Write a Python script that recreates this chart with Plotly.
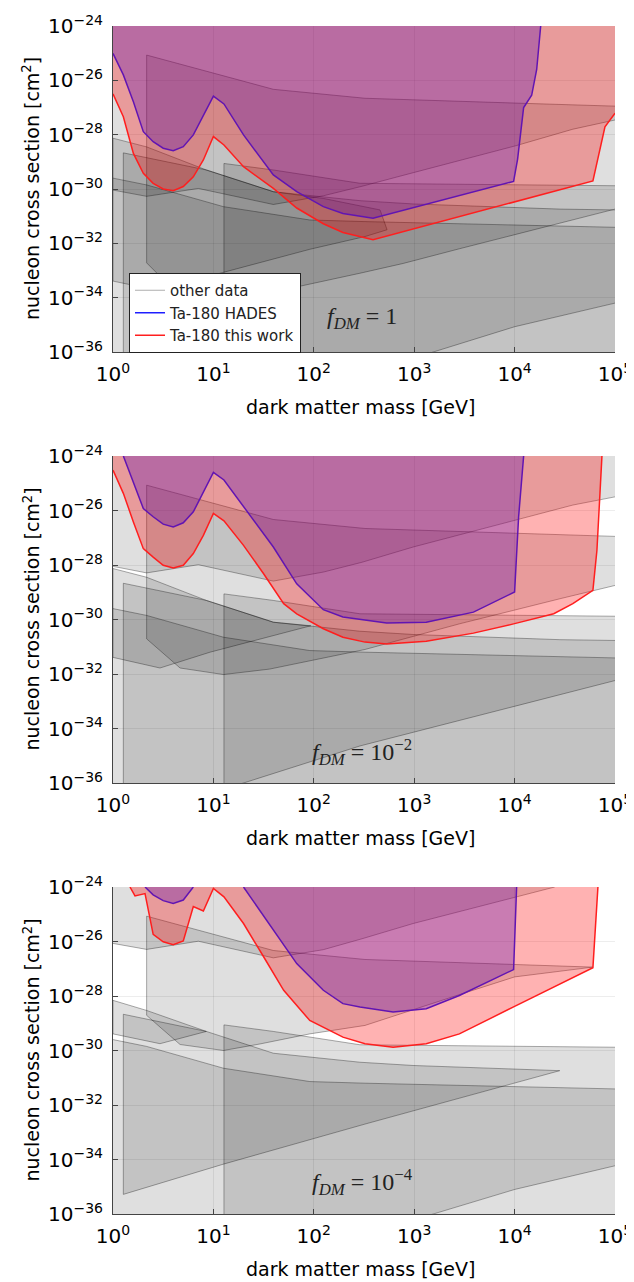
import plotly.graph_objects as go

# ---------------- axis / label data ----------------
X_TICK_EXP = [0, 1, 2, 3, 4, 5]
X_TICK_LABELS = ["10<sup>0</sup>", "10<sup>1</sup>", "10<sup>2</sup>", "10<sup>3</sup>", "10<sup>4</sup>", "10<sup>5</sup>"]
Y_TICK_EXP = [-24, -26, -28, -30, -32, -34, -36]
Y_TICK_LABELS = ["10<sup>−24</sup>", "10<sup>−26</sup>", "10<sup>−28</sup>", "10<sup>−30</sup>",
                 "10<sup>−32</sup>", "10<sup>−34</sup>", "10<sup>−36</sup>"]
FDM_LABELS = ["<i>f</i><sub><i>DM</i></sub> = 1",
              "<i>f</i><sub><i>DM</i></sub> = 10<sup>−2</sup>",
              "<i>f</i><sub><i>DM</i></sub> = 10<sup>−4</sup>"]
X_TITLE = "dark matter mass [GeV]"
Y_TITLE = "nucleon cross section [cm<sup>2</sup>]"
LEGEND_NAMES = ["other data", "Ta-180 HADES", "Ta-180 this work"]

# all values below are log10(mass/GeV) and log10(sigma/cm^2)
# ---------------- Ta-180 HADES (upper excluded region boundary) ----------------
hades_p1_m = [0.0, 0.103, 0.203, 0.302, 0.40, 0.50, 0.60, 0.70, 0.80, 0.90, 1.0, 1.105, 1.30, 1.597, 1.83,
              2.095, 2.29, 2.59, 3.99, 4.03, 4.09, 4.17, 4.22, 4.26]
hades_p1_s = [-25.01, -25.80, -26.79, -27.89, -28.26, -28.50, -28.59, -28.44, -28.01, -27.28, -26.58, -26.87,
              -28.01, -29.48, -30.1, -30.65, -30.9, -31.08, -29.72, -28.9, -27.0, -26.55, -25.6, -24.0]
hades_p2_m = [0.103, 0.302, 0.40, 0.50, 0.60, 0.70, 0.80, 0.90, 1.0, 1.105, 1.30, 1.597, 1.83, 2.095, 2.29,
              2.46, 2.726, 3.12, 3.59, 4.0, 4.04, 4.09]
hades_p2_s = [-24.0, -25.93, -26.23, -26.50, -26.60, -26.45, -26.05, -25.31, -24.60, -24.88, -25.87, -27.34,
              -28.69, -29.64, -29.91, -30.0, -30.13, -30.10, -29.73, -28.99, -26.23, -24.0]
hades_p3a_m = [0.319, 0.40, 0.50, 0.60, 0.70, 0.80]
hades_p3a_s = [-24.0, -24.29, -24.50, -24.60, -24.48, -24.0]
hades_p3b_m = [1.30, 1.597, 1.83, 2.095, 2.29, 2.46, 2.79, 3.12, 3.45, 3.99, 4.02]
hades_p3b_s = [-24.0, -25.58, -26.81, -27.79, -28.28, -28.40, -28.59, -28.47, -27.98, -27.03, -24.0]

# ---------------- Ta-180 this work ----------------
work_p1_m = [0.0, 0.103, 0.203, 0.302, 0.40, 0.50, 0.60, 0.70, 0.80, 0.90, 1.0, 1.105, 1.30, 1.597, 1.83,
             2.095, 2.29, 2.51, 2.59, 4.78, 4.9, 5.0]
work_p1_s = [-26.50, -27.34, -28.69, -29.42, -29.79, -30.0, -30.06, -29.91, -29.55, -28.93, -28.07, -28.38,
             -29.18, -29.98, -30.7, -31.28, -31.6, -31.8, -31.87, -29.7, -27.71, -27.21]
work_p2_m = [0.0, 0.103, 0.203, 0.302, 0.40, 0.50, 0.60, 0.70, 0.80, 0.90, 1.0, 1.105, 1.30, 1.50, 1.70,
             1.83, 2.095, 2.29, 2.51, 2.726, 3.12, 3.59, 3.99, 4.39, 4.58, 4.78, 4.82, 4.87]
work_p2_s = [-24.52, -25.37, -26.42, -27.40, -27.71, -28.01, -28.11, -28.01, -27.58, -26.91, -26.11, -26.38,
             -27.28, -28.32, -29.42, -29.79, -30.34, -30.65, -30.83, -30.90, -30.80, -30.50, -30.16, -29.79,
             -29.42, -28.93, -27.46, -24.0]
work_p3_m = [0.169, 0.219, 0.319, 0.40, 0.50, 0.60, 0.70, 0.80, 0.90, 1.0, 1.105, 1.30, 1.50, 1.70, 1.96,
             2.29, 2.51, 2.79, 3.12, 3.45, 3.99, 4.78, 4.83]
work_p3_s = [-24.0, -24.33, -24.24, -25.74, -26.01, -26.12, -25.98, -24.72, -24.88, -24.05, -24.36, -25.34,
             -26.56, -27.79, -28.90, -29.51, -29.75, -29.88, -29.75, -29.39, -28.40, -26.96, -24.0]

# ---------------- other data: region P (excluded above a lower limit) ----------------
otherP_p1_m = [0.0, 0.335, 0.85, 1.597, 2.095, 2.48, 2.99, 4.02, 4.58, 5.0]
otherP_p1_s = [-30.04, -30.27, -29.98, -30.57, -30.25, -29.9, -29.4, -28.4, -27.8, -27.46]
otherP_p2_m = [0.0, 0.335, 0.85, 1.597, 2.095, 2.48, 2.99, 4.02, 4.58, 5.0]
otherP_p2_s = [-28.05, -28.29, -27.99, -28.59, -28.26, -27.9, -27.34, -26.36, -25.80, -25.50]
otherP_p3_m = [0.0, 0.335, 0.85, 1.597, 2.095, 2.48, 2.99, 4.02, 4.4]
otherP_p3_s = [-26.07, -26.29, -25.99, -26.6, -26.3, -25.9, -25.34, -24.36, -24.0]

# ---------------- other data: region R (excluded below an upper limit) ----------------
otherR_m = [0.0, 0.335, 1.1, 1.96, 2.51, 5.0]
otherR_s = [-29.6, -29.85, -30.65, -31.14, -31.2, -31.41]

# ---------------- other data: band A (m > 2.2 GeV) ----------------
otherA_up_m = [0.335, 1.597, 2.51, 4.12, 5.0]
otherA_up_s = [-25.07, -26.33, -26.66, -26.85, -26.95]
otherA_p1_lo_m = [0.335, 0.50, 0.70, 1.10, 1.56, 2.46, 2.89, 3.45, 4.45, 5.0]
otherA_p1_lo_s = [-32.72, -33.33, -33.82, -34.02, -33.82, -33.1, -32.74, -32.2, -31.25, -30.74]
otherA_p2_lo_m = [0.335, 0.468, 0.668, 1.10, 1.56, 2.51, 3.45, 4.45, 5.0]
otherA_p2_lo_s = [-30.71, -31.14, -31.78, -32.02, -31.82, -31.10, -30.16, -29.24, -28.75]
otherA_p3_up_m = [0.335, 1.597, 2.51, 4.12, 4.78]
otherA_p3_up_s = [-25.07, -26.33, -26.66, -26.85, -26.94]
otherA_p3_lo_m = [0.335, 0.468, 0.668, 1.10, 1.464, 1.96, 2.51, 3.45, 4.0, 4.78]
otherA_p3_lo_s = [-28.71, -29.14, -29.78, -30.0, -29.76, -29.39, -29.08, -27.95, -27.3, -26.94]

# ---------------- other data: band B (m > 1.27 GeV) ----------------
otherB_up_m = [0.103, 0.93, 1.597, 2.46, 2.99, 4.45, 5.0]
otherB_up_s = [-28.67, -29.3, -30.1, -30.43, -30.55, -30.74, -30.77]
otherB_p1_lo_m = [0.103, 3.19, 4.0, 5.0]
otherB_p1_lo_s = [-39.3, -36.0, -35.07, -34.2]
otherB_p2_lo_m = [0.103, 1.3, 2.46, 3.19, 4.0, 5.0]
otherB_p2_lo_s = [-37.3, -36.0, -34.64, -33.95, -33.19, -32.24]
otherB_p3_up_m = [0.103, 0.93, 1.597, 2.46, 2.99, 4.45]
otherB_p3_up_s = [-28.67, -29.3, -30.1, -30.43, -30.55, -30.74]
otherB_p3_lo_m = [0.103, 1.1, 2.51, 4.45]
otherB_p3_lo_s = [-35.28, -34.17, -32.7, -30.74]

# ---------------- other data: band C (from 1 GeV) ----------------
otherC_p1_up_m = [0.0, 0.335, 0.93, 1.6, 2.1, 2.66]
otherC_p1_up_s = [-28.13, -28.45, -29.3, -30.1, -30.35, -30.77]
otherC_p1_lo_m = [0.0, 0.468, 0.966, 1.96, 2.51, 2.73]
otherC_p1_lo_s = [-33.39, -33.75, -33.2, -32.22, -31.75, -31.5]
otherC_p2_up_m = [0.0, 0.335, 0.93, 1.6, 1.97]
otherC_p2_up_s = [-28.13, -28.45, -29.3, -30.1, -30.23]
otherC_p2_lo_m = [0.0, 0.468, 0.966, 1.97]
otherC_p2_lo_s = [-31.39, -31.78, -31.2, -30.23]
otherC_p3_up_m = [0.0, 0.335, 0.93]
otherC_p3_up_s = [-28.16, -28.53, -29.3]
otherC_p3_lo_m = [0.0, 0.468, 0.93]
otherC_p3_lo_s = [-29.39, -29.75, -29.3]

# ---------------- other data: band D (m > 12.7 GeV) ----------------
otherD_up_m = [1.105, 1.597, 2.46, 5.0]
otherD_up_s = [-29.06, -29.3, -29.79, -29.88]
otherD_p1_lo_m = [1.105, 5.0]
otherD_p1_lo_s = [-42.0, -38.2]
otherD_p2_lo_m = [1.105, 5.0]
otherD_p2_lo_s = [-40.0, -36.2]
otherD_p3_lo_m = [1.105, 3.19, 4.0, 5.0]
otherD_p3_lo_s = [-38.0, -36.0, -35.1, -34.23]

# ---------------- styling ----------------
TOP_EDGE = -23.0
BOTTOM_EDGE = -40.0
GRAY_FILL = "rgba(0,0,0,0.125)"
GRAY_LINE = "rgba(0,0,0,0.32)"
BLUE_FILL = "rgba(0,0,255,0.30)"
BLUE_LINE = "rgb(30,30,255)"
RED_FILL = "rgba(255,0,0,0.30)"
RED_LINE = "rgb(255,30,30)"
FONT = "DejaVu Sans"

# the page body adds an 8px margin; the figure is sized so it ends at the window edge
PAGE_OFF = 8
W, H = 634 - PAGE_OFF, 1282 - PAGE_OFF
PLOT_L, PLOT_R = 113, 615          # window pixels
PANEL_TOPS = [26, 456, 887]
PANEL_BOTS = [352, 783, 1214]


def px(xw):
    return (xw - PAGE_OFF) / W


def py(yw):
    return 1 - (yw - PAGE_OFF) / H


fig = go.Figure()
legend_done = {"gray": False}


def lin(v):
    return [10.0 ** a for a in v]


def axes(i):
    return ("x" if i == 0 else f"x{i+1}", "y" if i == 0 else f"y{i+1}")


def add_fill(i, xs, ys, color):
    xa, ya = axes(i)
    fig.add_trace(go.Scatter(x=lin(xs), y=lin(ys), mode="lines", fill="toself", fillcolor=color,
                             line=dict(width=0), hoverinfo="skip", showlegend=False, xaxis=xa, yaxis=ya))


def add_line(i, xs, ys, color, width, name=None):
    xa, ya = axes(i)
    fig.add_trace(go.Scatter(x=lin(xs), y=lin(ys), mode="lines", line=dict(color=color, width=width),
                             hoverinfo="skip", showlegend=name is not None, name=name or "",
                             xaxis=xa, yaxis=ya))


def gray_line(i, xs, ys):
    name = None
    if i == 0 and not legend_done["gray"]:
        name = LEGEND_NAMES[0]
        legend_done["gray"] = True
    add_line(i, xs, ys, GRAY_LINE, 1, name)


def gray_band(i, up_m, up_s, lo_m, lo_s, closed=False):
    xs = list(up_m) + list(reversed(lo_m))
    ys = list(up_s) + list(reversed(lo_s))
    add_fill(i, xs, ys, GRAY_FILL)
    ox = list(reversed(lo_m)) + list(up_m)
    oy = list(reversed(lo_s)) + list(up_s)
    if closed:
        ox.append(ox[0])
        oy.append(oy[0])
    gray_line(i, ox, oy)


def gray_above(i, m, s):
    add_fill(i, list(m) + [m[-1], m[0]], list(s) + [TOP_EDGE, TOP_EDGE], GRAY_FILL)
    gray_line(i, m, s)


def gray_below(i, m, s):
    add_fill(i, list(m) + [m[-1], m[0]], list(s) + [BOTTOM_EDGE, BOTTOM_EDGE], GRAY_FILL)
    gray_line(i, m, s)


def colored_above(i, m, s, fill):
    add_fill(i, list(m) + [m[-1], m[0]], list(s) + [TOP_EDGE, TOP_EDGE], fill)


panels = [
    dict(P=(otherP_p1_m, otherP_p1_s),
         A=(otherA_up_m, otherA_up_s, otherA_p1_lo_m, otherA_p1_lo_s, False),
         B=(otherB_up_m, otherB_up_s, otherB_p1_lo_m, otherB_p1_lo_s, False),
         C=(otherC_p1_up_m, otherC_p1_up_s, otherC_p1_lo_m, otherC_p1_lo_s, True),
         D=(otherD_up_m, otherD_up_s, otherD_p1_lo_m, otherD_p1_lo_s, False),
         hades=[(hades_p1_m, hades_p1_s)], work=(work_p1_m, work_p1_s)),
    dict(P=(otherP_p2_m, otherP_p2_s),
         A=(otherA_up_m, otherA_up_s, otherA_p2_lo_m, otherA_p2_lo_s, False),
         B=(otherB_up_m, otherB_up_s, otherB_p2_lo_m, otherB_p2_lo_s, False),
         C=(otherC_p2_up_m, otherC_p2_up_s, otherC_p2_lo_m, otherC_p2_lo_s, True),
         D=(otherD_up_m, otherD_up_s, otherD_p2_lo_m, otherD_p2_lo_s, False),
         hades=[(hades_p2_m, hades_p2_s)], work=(work_p2_m, work_p2_s)),
    dict(P=(otherP_p3_m, otherP_p3_s),
         A=(otherA_p3_up_m, otherA_p3_up_s, otherA_p3_lo_m, otherA_p3_lo_s, True),
         B=(otherB_p3_up_m, otherB_p3_up_s, otherB_p3_lo_m, otherB_p3_lo_s, True),
         C=(otherC_p3_up_m, otherC_p3_up_s, otherC_p3_lo_m, otherC_p3_lo_s, True),
         D=(otherD_up_m, otherD_up_s, otherD_p3_lo_m, otherD_p3_lo_s, False),
         hades=[(hades_p3a_m, hades_p3a_s), (hades_p3b_m, hades_p3b_s)], work=(work_p3_m, work_p3_s)),
]

for i, p in enumerate(panels):
    gray_below(i, otherR_m, otherR_s)
    for key in ["C", "B", "A", "D"]:
        um, us, lm, ls, cl = p[key]
        gray_band(i, um, us, lm, ls, closed=cl)
    gray_above(i, *p["P"])
    for j, (m, s) in enumerate(p["hades"]):
        colored_above(i, m, s, BLUE_FILL)
        add_line(i, m, s, BLUE_LINE, 1.5, LEGEND_NAMES[1] if (i == 0 and j == 0) else None)
    m, s = p["work"]
    colored_above(i, m, s, RED_FILL)
    add_line(i, m, s, RED_LINE, 1.5, LEGEND_NAMES[2] if i == 0 else None)

layout = dict(width=W, height=H, margin=dict(l=0, r=0, t=0, b=0, pad=0), autosize=False,
              paper_bgcolor="white", plot_bgcolor="white",
              font=dict(family=FONT, color="black"), showlegend=True,
              legend=dict(x=px(129), y=py(273), xanchor="left", yanchor="top",
                          bgcolor="white", bordercolor="#222", borderwidth=1,
                          font=dict(family=FONT, size=15, color="#222"),
                          tracegroupgap=0, itemwidth=30),
              annotations=[])

for i in range(3):
    xa, ya = axes(i)
    xk = "xaxis" if i == 0 else f"xaxis{i+1}"
    yk = "yaxis" if i == 0 else f"yaxis{i+1}"
    top, bot = PANEL_TOPS[i], PANEL_BOTS[i]
    common = dict(ticks="inside", ticklen=5, tickcolor="#444", showline=True, linecolor="#444",
                  linewidth=1, mirror=False, showgrid=True, gridcolor="rgba(0,0,0,0.07)",
                  zeroline=False, automargin=False,
                  tickfont=dict(family=FONT, size=20, color="black"))
    layout[xk] = dict(type="log", range=[0, 5], domain=[px(PLOT_L), px(PLOT_R)], anchor=ya,
                      tickvals=lin(X_TICK_EXP), ticktext=X_TICK_LABELS, ticklabelstandoff=4, **common)
    layout[yk] = dict(type="log", range=[-36, -24], domain=[py(bot), py(top)], anchor=xa,
                      tickvals=lin(Y_TICK_EXP), ticktext=Y_TICK_LABELS, ticklabelstandoff=5, **common)
    layout["annotations"].append(dict(text=X_TITLE, xref="paper", yref="paper", x=px(360),
                                      y=py(bot + 55), xanchor="center", yanchor="middle",
                                      showarrow=False, font=dict(family=FONT, size=19, color="black")))
    layout["annotations"].append(dict(text=Y_TITLE, xref="paper", yref="paper", x=px(31),
                                      y=py((top + bot) / 2), xanchor="center", yanchor="middle",
                                      textangle=-90, showarrow=False,
                                      font=dict(family=FONT, size=19, color="black")))
    fdm_y = [318, 752, 1182][i]
    layout["annotations"].append(dict(text=FDM_LABELS[i], xref="paper", yref="paper", x=px(362),
                                      y=py(fdm_y), xanchor="center", yanchor="middle",
                                      showarrow=False,
                                      font=dict(family="Liberation Serif", size=24, color="#222")))

fig.update_layout(**layout)
fig.write_html("out.html")
